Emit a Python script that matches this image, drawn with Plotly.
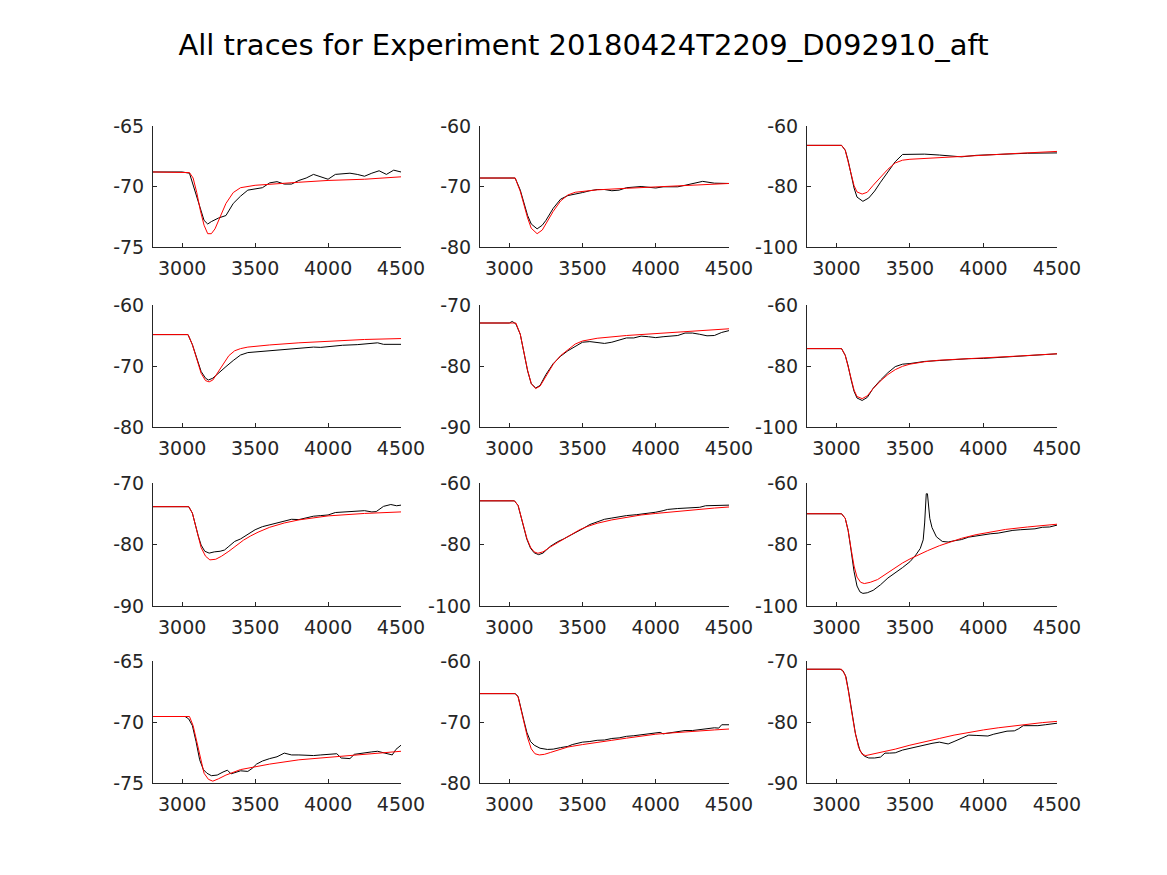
import plotly.graph_objects as go

title_text = "All traces for Experiment 20180424T2209_D092910_aft"

# ---- data per panel (time in ms, membrane potential in mV) ----
p1_bx = [2800, 3000, 3050, 3100, 3150, 3175, 3200, 3250, 3300, 3350, 3400, 3450, 3500, 3550, 3600, 3650, 3700, 3750, 3800, 3850, 3900, 3950, 4000, 4050, 4100, 4150, 4200, 4250, 4300, 4350, 4400, 4450, 4500]
p1_by = [-68.8, -68.8, -68.9, -70.9, -72.8, -73.1, -72.9, -72.6, -72.4, -71.4, -70.8, -70.3, -70.2, -70.1, -69.7, -69.6, -69.8, -69.8, -69.5, -69.3, -69.0, -69.2, -69.4, -69.0, -68.95, -68.9, -69.0, -69.15, -68.9, -68.7, -69.0, -68.65, -68.8]
p1_rx = [2800, 3050, 3075, 3100, 3125, 3150, 3175, 3200, 3225, 3250, 3300, 3350, 3400, 3500, 3600, 3800, 4000, 4250, 4500]
p1_ry = [-68.8, -68.85, -69.3, -70.5, -72.0, -73.2, -73.9, -73.9, -73.5, -72.8, -71.4, -70.5, -70.1, -69.9, -69.8, -69.65, -69.5, -69.4, -69.2]

p2_bx = [2800, 3040, 3075, 3100, 3125, 3150, 3190, 3225, 3250, 3300, 3350, 3400, 3450, 3500, 3550, 3600, 3650, 3700, 3750, 3800, 3900, 4000, 4050, 4100, 4150, 4200, 4250, 4320, 4400, 4500]
p2_by = [-68.6, -68.6, -70.6, -72.6, -74.8, -76.2, -77.0, -76.4, -75.6, -73.6, -72.1, -71.5, -71.3, -71.0, -70.7, -70.5, -70.5, -70.7, -70.6, -70.2, -70.0, -70.25, -70.05, -70.0, -70.05, -69.8, -69.5, -69.15, -69.45, -69.5]
p2_rx = [2800, 3040, 3075, 3100, 3125, 3150, 3190, 3225, 3250, 3300, 3350, 3400, 3450, 3500, 3600, 3800, 4000, 4250, 4500]
p2_ry = [-68.6, -68.6, -70.8, -73.0, -75.2, -76.9, -77.8, -77.2, -76.2, -74.1, -72.4, -71.4, -70.95, -70.8, -70.55, -70.3, -70.05, -69.8, -69.5]

p3_bx = [2800, 3035, 3060, 3080, 3100, 3120, 3140, 3180, 3220, 3260, 3300, 3350, 3400, 3450, 3500, 3600, 3700, 3800, 3850, 3950, 4100, 4300, 4500]
p3_by = [-66.4, -66.4, -68.0, -71.5, -76.0, -80.5, -83.5, -84.9, -83.8, -81.5, -78.6, -75.0, -71.8, -69.4, -69.3, -69.3, -69.6, -70.1, -70.2, -69.7, -69.3, -69.0, -68.9]
p3_rx = [2800, 3035, 3060, 3080, 3100, 3120, 3140, 3175, 3210, 3250, 3300, 3350, 3400, 3450, 3500, 3600, 3800, 4000, 4250, 4500]
p3_ry = [-66.4, -66.4, -68.0, -71.5, -75.8, -79.7, -81.8, -82.5, -81.9, -79.6, -76.8, -74.3, -72.2, -71.3, -71.0, -70.7, -70.1, -69.6, -69.0, -68.4]

p4_bx = [2800, 3040, 3070, 3100, 3130, 3160, 3180, 3210, 3250, 3300, 3350, 3400, 3450, 3500, 3600, 3700, 3800, 3900, 3950, 4000, 4100, 4200, 4300, 4340, 4380, 4450, 4500]
p4_by = [-64.85, -64.85, -66.5, -68.9, -70.9, -72.0, -72.3, -72.0, -71.1, -70.1, -69.1, -68.2, -67.8, -67.7, -67.5, -67.25, -67.1, -66.9, -66.95, -66.8, -66.6, -66.5, -66.35, -66.2, -66.45, -66.4, -66.45]
p4_rx = [2800, 3040, 3070, 3100, 3130, 3160, 3185, 3210, 3240, 3280, 3320, 3360, 3400, 3450, 3500, 3600, 3800, 4000, 4250, 4500]
p4_ry = [-64.85, -64.85, -66.5, -69.0, -71.2, -72.4, -72.6, -72.3, -71.2, -69.6, -68.3, -67.5, -67.15, -66.9, -66.75, -66.55, -66.2, -65.95, -65.65, -65.5]

p5_bx = [2800, 3000, 3020, 3045, 3075, 3100, 3125, 3150, 3180, 3210, 3250, 3300, 3350, 3400, 3450, 3500, 3550, 3600, 3650, 3700, 3750, 3800, 3850, 3900, 3950, 4000, 4050, 4100, 4150, 4200, 4250, 4300, 4350, 4400, 4450, 4500]
p5_by = [-72.95, -72.95, -72.7, -73.1, -74.8, -77.6, -80.8, -82.9, -83.6, -83.2, -81.4, -79.6, -78.4, -77.5, -76.8, -76.1, -76.0, -76.1, -76.3, -76.1, -75.8, -75.4, -75.4, -75.1, -75.2, -75.35, -75.2, -75.05, -75.0, -74.6, -74.6, -74.8, -75.05, -75.0, -74.5, -74.2]
p5_rx = [2800, 3045, 3075, 3100, 3125, 3150, 3180, 3210, 3250, 3300, 3350, 3400, 3450, 3500, 3600, 3800, 4000, 4250, 4500]
p5_ry = [-72.95, -72.95, -74.8, -77.6, -80.7, -82.9, -83.7, -83.3, -81.7, -79.7, -78.3, -77.3, -76.4, -75.9, -75.45, -75.0, -74.7, -74.3, -73.9]

p6_bx = [2800, 3035, 3060, 3080, 3100, 3120, 3140, 3175, 3210, 3250, 3300, 3350, 3400, 3450, 3500, 3550, 3600, 3700, 3800, 3900, 4000, 4100, 4200, 4300, 4400, 4500]
p6_by = [-74.3, -74.3, -76.5, -80.0, -84.5, -88.3, -90.5, -91.3, -90.3, -87.3, -84.6, -82.2, -80.2, -79.4, -79.2, -78.8, -78.5, -78.2, -77.8, -77.6, -77.5, -77.1, -76.9, -76.6, -76.3, -76.0]
p6_rx = [2800, 3035, 3060, 3080, 3100, 3120, 3140, 3175, 3210, 3250, 3300, 3350, 3400, 3450, 3500, 3600, 3700, 3800, 4000, 4250, 4500]
p6_ry = [-74.3, -74.3, -76.5, -80.0, -84.3, -87.9, -90.0, -90.7, -89.8, -87.4, -84.9, -82.8, -81.2, -80.1, -79.4, -78.6, -78.1, -77.8, -77.3, -76.7, -76.0]

p7_bx = [2800, 3045, 3070, 3090, 3110, 3130, 3155, 3185, 3220, 3260, 3290, 3320, 3360, 3400, 3450, 3500, 3550, 3600, 3650, 3700, 3750, 3800, 3850, 3900, 3950, 4000, 4050, 4100, 4150, 4200, 4250, 4300, 4330, 4380, 4430, 4470, 4500]
p7_by = [-73.85, -73.85, -74.9, -76.9, -78.6, -80.1, -81.1, -81.4, -81.2, -81.1, -80.9, -80.3, -79.5, -79.1, -78.3, -77.6, -77.1, -76.8, -76.5, -76.1, -75.9, -75.95, -75.7, -75.4, -75.3, -75.2, -74.8, -74.75, -74.65, -74.55, -74.5, -74.7, -74.65, -73.8, -73.5, -73.7, -73.6]
p7_rx = [2800, 3045, 3070, 3090, 3110, 3130, 3160, 3190, 3230, 3270, 3320, 3370, 3420, 3470, 3520, 3600, 3700, 3800, 3900, 4000, 4250, 4500]
p7_ry = [-73.85, -73.85, -74.9, -76.8, -78.8, -80.5, -81.9, -82.5, -82.4, -81.9, -81.1, -80.2, -79.3, -78.6, -78.0, -77.2, -76.5, -76.0, -75.65, -75.35, -74.95, -74.7]

p8_bx = [2800, 3035, 3060, 3080, 3100, 3120, 3145, 3170, 3200, 3230, 3280, 3330, 3370, 3420, 3460, 3500, 3550, 3600, 3650, 3700, 3750, 3800, 3870, 3950, 4000, 4050, 4080, 4150, 4200, 4300, 4340, 4400, 4500]
p8_by = [-65.8, -65.8, -67.3, -70.8, -74.8, -78.3, -81.2, -82.7, -83.3, -82.8, -80.6, -79.1, -78.2, -77.0, -76.0, -74.9, -73.5, -72.6, -71.8, -71.4, -70.9, -70.6, -70.3, -69.9, -69.5, -69.0, -68.6, -68.3, -68.1, -67.9, -67.4, -67.3, -67.2]
p8_rx = [2800, 3035, 3060, 3080, 3100, 3120, 3145, 3170, 3195, 3230, 3280, 3330, 3380, 3430, 3480, 3530, 3600, 3700, 3800, 3900, 4000, 4100, 4200, 4300, 4400, 4500]
p8_ry = [-65.8, -65.8, -67.3, -70.8, -74.6, -78.0, -80.9, -82.4, -82.85, -82.4, -80.8, -79.4, -77.8, -76.4, -75.2, -74.2, -73.1, -72.0, -71.1, -70.4, -69.9, -69.4, -68.9, -68.5, -68.15, -67.8]

p9_bx = [2800, 3035, 3060, 3080, 3100, 3120, 3140, 3160, 3180, 3210, 3250, 3300, 3350, 3400, 3450, 3500, 3540, 3570, 3590, 3600, 3607, 3611, 3619, 3624, 3635, 3650, 3680, 3720, 3760, 3800, 3850, 3900, 3950, 4000, 4050, 4100, 4150, 4200, 4250, 4300, 4350, 4400, 4450, 4500]
p9_by = [-70.0, -70.0, -71.5, -75.5, -82.0, -88.8, -93.5, -95.4, -95.9, -95.7, -94.9, -93.1, -90.9, -89.3, -87.5, -85.6, -83.4, -81.3, -78.5, -73.0, -66.0, -63.5, -63.5, -66.0, -71.5, -74.5, -77.5, -79.0, -79.2, -78.8, -78.4, -77.6, -77.2, -76.7, -76.5, -76.3, -75.8, -75.4, -75.2, -75.0, -74.9, -74.4, -74.3, -73.7]
p9_rx = [2800, 3035, 3060, 3080, 3100, 3120, 3140, 3165, 3190, 3230, 3280, 3330, 3390, 3450, 3500, 3560, 3620, 3700, 3780, 3850, 3950, 4050, 4150, 4300, 4500]
p9_ry = [-70.0, -70.0, -71.5, -75.5, -81.5, -87.0, -90.6, -92.3, -92.7, -92.3, -91.4, -89.8, -87.9, -86.0, -84.7, -83.3, -82.0, -80.4, -79.0, -78.0, -76.8, -75.9, -75.1, -74.3, -73.4]

p10_bx = [2800, 3020, 3045, 3070, 3095, 3120, 3145, 3170, 3200, 3240, 3280, 3310, 3335, 3370, 3400, 3450, 3480, 3510, 3550, 3600, 3650, 3700, 3750, 3800, 3900, 3950, 4000, 4060, 4090, 4150, 4180, 4250, 4300, 4340, 4400, 4440, 4465, 4500]
p10_by = [-69.55, -69.55, -69.75, -70.3, -71.6, -73.1, -73.9, -74.2, -74.4, -74.35, -74.1, -73.95, -74.25, -74.1, -74.0, -74.05, -73.8, -73.45, -73.2, -73.0, -72.85, -72.55, -72.7, -72.7, -72.75, -72.7, -72.65, -72.6, -72.95, -73.0, -72.65, -72.5, -72.45, -72.4, -72.6, -72.7, -72.25, -71.9]
p10_rx = [2800, 3050, 3075, 3100, 3125, 3150, 3180, 3210, 3250, 3300, 3400, 3500, 3600, 3800, 4000, 4250, 4500]
p10_ry = [-69.55, -69.55, -70.3, -71.6, -73.1, -74.2, -74.7, -74.85, -74.65, -74.35, -73.9, -73.65, -73.45, -73.1, -72.9, -72.65, -72.4]

p11_bx = [2800, 3040, 3060, 3080, 3100, 3120, 3145, 3170, 3210, 3260, 3300, 3350, 3400, 3430, 3470, 3500, 3550, 3600, 3650, 3700, 3750, 3800, 3850, 3900, 3950, 4000, 4030, 4050, 4100, 4150, 4200, 4250, 4300, 4350, 4400, 4430, 4450, 4500]
p11_by = [-65.35, -65.35, -65.8, -67.6, -69.8, -71.7, -73.2, -73.8, -74.3, -74.5, -74.45, -74.2, -74.0, -73.7, -73.5, -73.3, -73.2, -73.0, -72.95, -72.7, -72.6, -72.35, -72.25, -72.1, -71.95, -71.75, -71.7, -71.95, -71.75, -71.55, -71.4, -71.4, -71.25, -71.1, -70.95, -71.0, -70.45, -70.45]
p11_rx = [2800, 3040, 3060, 3080, 3100, 3125, 3150, 3175, 3205, 3240, 3280, 3330, 3400, 3500, 3600, 3700, 3800, 3900, 4000, 4100, 4200, 4300, 4400, 4500]
p11_ry = [-65.35, -65.35, -65.9, -67.9, -70.3, -72.6, -74.4, -75.2, -75.4, -75.3, -75.0, -74.6, -74.1, -73.7, -73.3, -73.0, -72.65, -72.3, -72.0, -71.8, -71.6, -71.45, -71.3, -71.15]

p12_bx = [2800, 3025, 3045, 3065, 3085, 3105, 3130, 3160, 3190, 3220, 3260, 3300, 3330, 3360, 3400, 3450, 3500, 3550, 3600, 3650, 3700, 3760, 3800, 3850, 3900, 3950, 4000, 4030, 4070, 4100, 4160, 4210, 4240, 4270, 4330, 4370, 4420, 4460, 4500]
p12_by = [-71.35, -71.35, -71.6, -72.6, -75.3, -78.3, -82.0, -84.7, -85.6, -85.9, -85.9, -85.75, -85.1, -85.1, -85.05, -84.6, -84.3, -84.0, -83.75, -83.5, -83.3, -83.6, -83.2, -82.7, -82.15, -82.2, -82.3, -82.3, -82.0, -81.8, -81.5, -81.45, -81.1, -80.6, -80.6, -80.6, -80.45, -80.3, -80.2]
p12_rx = [2800, 3035, 3060, 3080, 3100, 3125, 3150, 3175, 3200, 3240, 3300, 3400, 3500, 3600, 3700, 3800, 3900, 4000, 4100, 4200, 4300, 4400, 4500]
p12_ry = [-71.35, -71.35, -72.3, -74.7, -77.8, -81.4, -84.1, -85.3, -85.5, -85.3, -85.0, -84.45, -83.8, -83.3, -82.7, -82.15, -81.7, -81.3, -80.95, -80.65, -80.35, -80.1, -79.9]

y_ranges = [(-75, -65), (-80, -60), (-100, -60),
            (-80, -60), (-90, -70), (-100, -60),
            (-90, -70), (-100, -60), (-100, -60),
            (-75, -65), (-80, -60), (-90, -70)]
x_ticks = [3000, 3500, 4000, 4500]

panels = [(p1_bx, p1_by, p1_rx, p1_ry), (p2_bx, p2_by, p2_rx, p2_ry), (p3_bx, p3_by, p3_rx, p3_ry),
          (p4_bx, p4_by, p4_rx, p4_ry), (p5_bx, p5_by, p5_rx, p5_ry), (p6_bx, p6_by, p6_rx, p6_ry),
          (p7_bx, p7_by, p7_rx, p7_ry), (p8_bx, p8_by, p8_rx, p8_ry), (p9_bx, p9_by, p9_rx, p9_ry),
          (p10_bx, p10_by, p10_rx, p10_ry), (p11_bx, p11_by, p11_rx, p11_ry), (p12_bx, p12_by, p12_rx, p12_ry)]

W, H = 1167, 875
col_px = [(153, 401), (480, 729), (807, 1057)]
row_px = [(126, 247), (305, 427), (483, 606), (661, 783)]

axis_color = "#262626"
font_family = "DejaVu Sans, Liberation Sans, sans-serif"

fig = go.Figure()
layout = {}
for i, (bx, by, rx, ry) in enumerate(panels):
    r, c = divmod(i, 3)
    n = i + 1
    xa = "x" if n == 1 else f"x{n}"
    ya = "y" if n == 1 else f"y{n}"
    fig.add_trace(go.Scatter(x=bx, y=by, mode="lines", line=dict(color="black", width=1),
                             xaxis=xa, yaxis=ya, showlegend=False, hoverinfo="skip"))
    fig.add_trace(go.Scatter(x=rx, y=ry, mode="lines", line=dict(color="red", width=1),
                             xaxis=xa, yaxis=ya, showlegend=False, hoverinfo="skip"))
    x0, x1 = col_px[c]
    t0, t1 = row_px[r]
    lo, hi = y_ranges[i]
    mid = (lo + hi) / 2
    yt = [lo, mid, hi]
    common = dict(showline=True, linecolor=axis_color, linewidth=1, mirror=False,
                  showgrid=False, zeroline=False, ticks="inside", ticklen=4,
                  automargin=False,
                  tickcolor=axis_color, tickfont=dict(family=font_family, size=19, color=axis_color))
    layout["xaxis" if n == 1 else f"xaxis{n}"] = dict(
        domain=[x0 / W, x1 / W], range=[2800, 4500], anchor=ya,
        tickmode="array", tickvals=x_ticks, ticktext=[str(v) for v in x_ticks],
        ticklabelstandoff=4, **common)
    layout["yaxis" if n == 1 else f"yaxis{n}"] = dict(
        domain=[1 - t1 / H, 1 - t0 / H], range=[lo, hi], anchor=xa,
        tickmode="array", tickvals=yt, ticktext=[f"{v:g}".replace("\u2212", "-") for v in yt],
        ticklabelstandoff=4, **common)

fig.update_layout(**layout)
fig.update_layout(
    width=W, height=H, margin=dict(l=0, r=0, t=0, b=0, autoexpand=False),
    paper_bgcolor="white", plot_bgcolor="white",
    title=dict(text=title_text, x=0.5, xanchor="center", y=1 - 45 / H, yanchor="middle",
               automargin=False,
               font=dict(family=font_family, size=29, color="black")),
)
fig.write_html("out.html")
